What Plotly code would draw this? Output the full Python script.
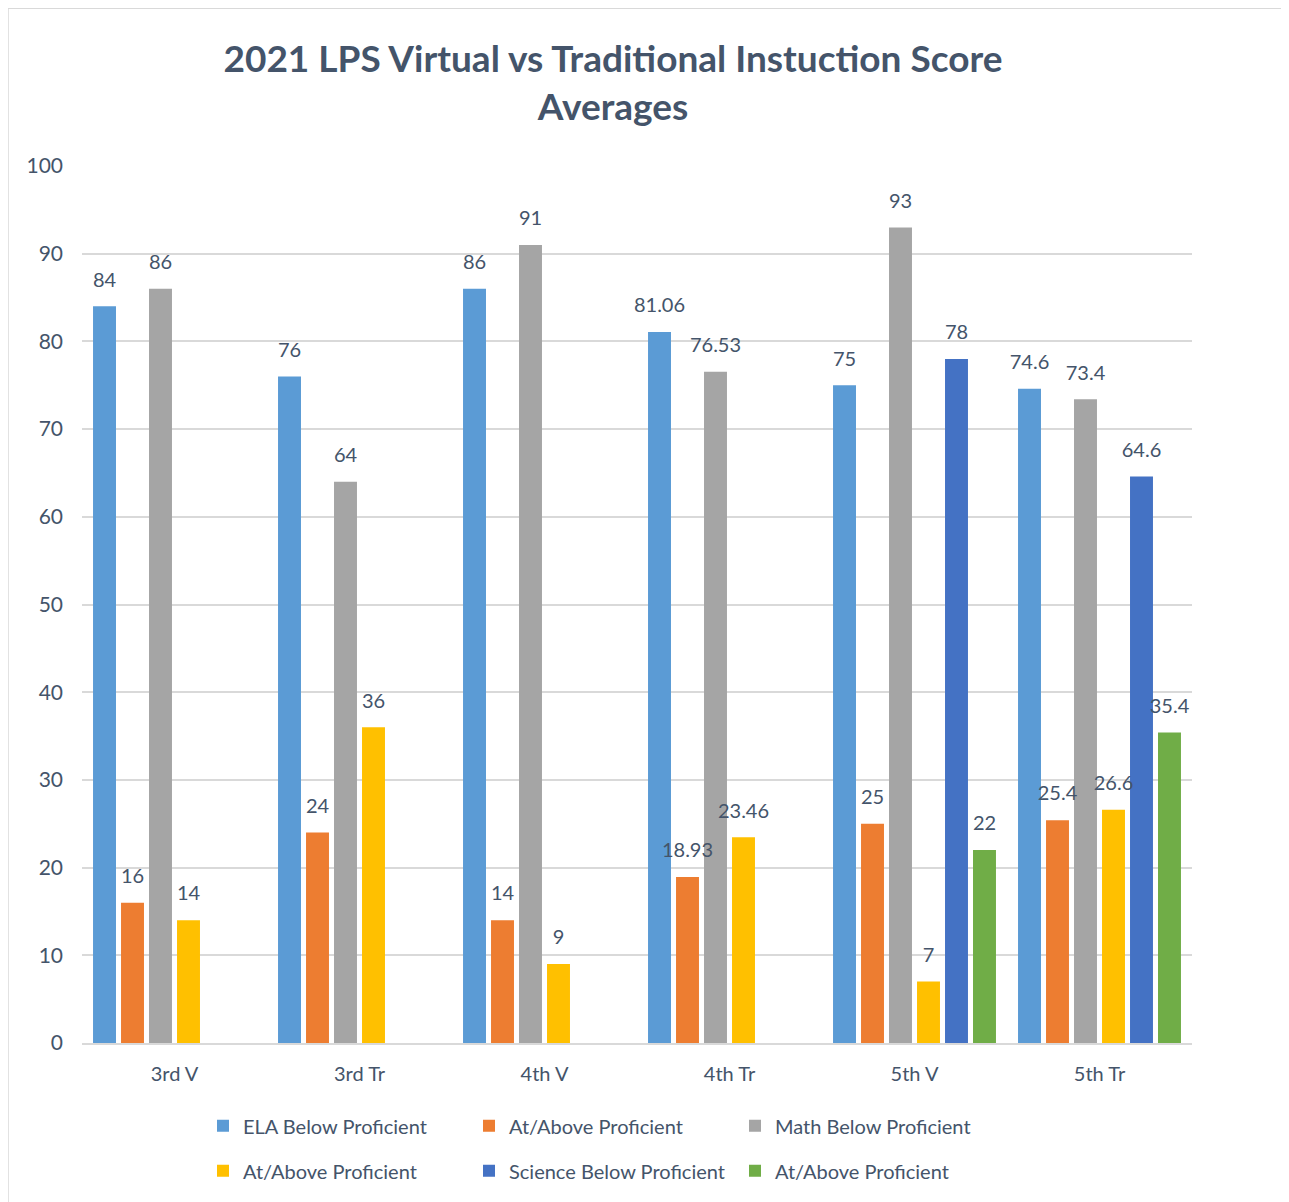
import plotly.graph_objects as go

categories = ["3rd V", "3rd Tr", "4th V", "4th Tr", "5th V", "5th Tr"]
series_names = ["ELA Below Proficient", "At/Above Proficient", "Math Below Proficient",
                "At/Above Proficient", "Science Below Proficient", "At/Above Proficient"]
ela_below = [84, 76, 86, 81.06, 75, 74.6]
ela_above = [16, 24, 14, 18.93, 25, 25.4]
math_below = [86, 64, 91, 76.53, 93, 73.4]
math_above = [14, 36, 9, 23.46, 7, 26.6]
sci_below = [None, None, None, None, 78, 64.6]
sci_above = [None, None, None, None, 22, 35.4]
all_series = [ela_below, ela_above, math_below, math_above, sci_below, sci_above]
colors = ["#5B9BD5", "#ED7D31", "#A5A5A5", "#FFC000", "#4472C4", "#70AD47"]
legend_ids = ["legend", "legend", "legend", "legend2", "legend2", "legend2"]

TXT = "#44546A"
FONT = "Lato"
OFF = 8  # page body margin
W, H = 1289 - OFF, 1202 - OFF
L, T = 82 - OFF, 166 - OFF
R, B = W - (1192 - OFF), H - (1045 - OFF)
pw, ph = W - L - R, H - T - B

fig = go.Figure()
for i, (name, vals) in enumerate(zip(series_names, all_series)):
    fig.add_trace(go.Bar(
        x=categories, y=vals, name=name, marker=dict(color=colors[i], line=dict(width=0)),
        legend=legend_ids[i], offsetgroup=str(i), hoverinfo="skip"))
for i, vals in enumerate(all_series):
    fig.add_trace(go.Scatter(
        x=categories, y=vals, mode="markers+text", showlegend=False,
        text=[("" if v is None else f"{v:g}") for v in vals],
        textposition="top center", textfont=dict(size=20, color=TXT, family=FONT),
        marker=dict(size=22, opacity=0), offsetgroup=str(i), cliponaxis=False,
        hoverinfo="skip"))

def px_x(p):
    return (p - OFF - L) / pw

def px_y(p):
    return (H - B - (p - OFF)) / ph

fig.update_layout(
    width=W, height=H,
    margin=dict(l=L, r=R, t=T, b=B),
    paper_bgcolor="white", plot_bgcolor="white",
    font=dict(family=FONT, color=TXT, size=20),
    barmode="group", bargap=0.092, bargroupgap=0.18,
    scattermode="group", scattergap=0.092,
    title=dict(text="<b>2021 LPS Virtual vs Traditional Instuction Score<br>Averages</b>",
               x=(613 - OFF) / W, xanchor="center", y=1 - (72 - OFF) / H, yanchor="middle",
               font=dict(size=37, color=TXT, family=FONT)),
    xaxis=dict(showgrid=False, showline=True, linecolor="#D9D9D9", linewidth=1.5,
               ticks="", tickfont=dict(size=20, color=TXT), ticklabelstandoff=12),
    yaxis=dict(range=[0, 100], dtick=10, showgrid=True, gridcolor="#D9D9D9", gridwidth=1.5,
               zeroline=False, showline=False, ticks="",
               tickfont=dict(size=21, color=TXT), ticklabelstandoff=18),
    legend=dict(orientation="h", x=px_x(203), xanchor="left", y=px_y(1128), yanchor="middle",
                entrywidth=221, entrywidthmode="pixels", font=dict(size=20, color=TXT),
                bgcolor="rgba(0,0,0,0)"),
    legend2=dict(orientation="h", x=px_x(203), xanchor="left", y=px_y(1173), yanchor="middle",
                 entrywidth=221, entrywidthmode="pixels", font=dict(size=20, color=TXT),
                 bgcolor="rgba(0,0,0,0)"),
    shapes=[dict(type="rect", xref="paper", yref="paper",
                 x0=px_x(8), x1=px_x(1400), y0=px_y(1300), y1=px_y(8),
                 line=dict(color="#D9D9D9", width=1.5), fillcolor="rgba(0,0,0,0)", layer="below")],
)

fig.write_html("out.html")
